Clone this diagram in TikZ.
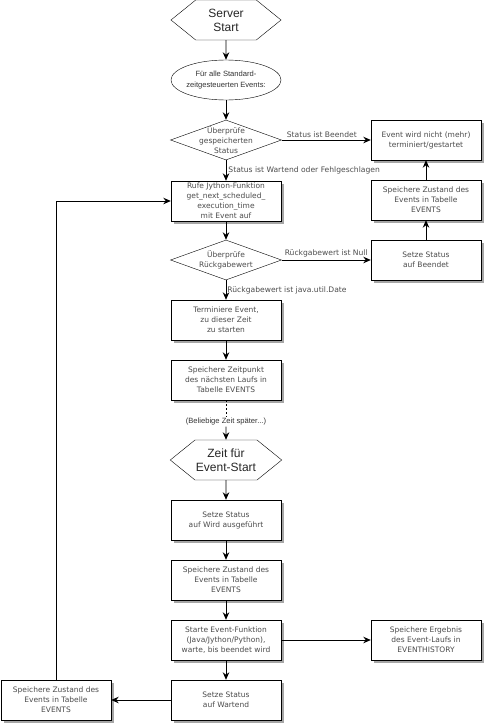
\documentclass[tikz,border=0pt]{standalone}
\usepackage{fontspec}
\setmainfont{DejaVu Sans}
\newfontfamily\arialfont{Liberation Sans}
\usetikzlibrary{shapes.geometric, shapes.symbols, shadows, arrows.meta}

\tikzset{
    box/.style={draw, rectangle, fill=white, minimum width=110pt, minimum height=40pt,
        inner sep=0pt, align=center, text=black!70, font=\fontsize{7.5}{10}\selectfont,
        drop shadow={shadow xshift=3pt, shadow yshift=-3pt, fill=black!35, opacity=1}},
    hexa/.style={draw, signal, signal to=west and east, signal pointer angle=78,
        minimum width=110pt, minimum height=40pt, inner sep=1pt, align=center,
        text=black!85, font=\arialfont\fontsize{12}{14}\selectfont},
    decide/.style={draw, diamond, fill=white, minimum width=111pt, minimum height=40pt, inner sep=0pt},
    loopover/.style={draw, ellipse, fill=white, minimum width=110pt, minimum height=40pt, inner sep=0pt},
    boxtext/.style={align=center, text=black!70, font=\fontsize{7.5}{10}\selectfont},
    smalltext/.style={align=center, text=black!80, font=\arialfont\fontsize{7.6}{10.5}\selectfont},
    edgetext/.style={text=black!70, font=\fontsize{7.6}{9}\selectfont, inner sep=2pt},
    flow/.style={line width=0.9pt, -{Stealth[length=7.5pt, width=6.5pt]}}
}

\begin{document}
\begin{tikzpicture}[x=1pt, y=-1pt]

    \useasboundingbox (0, 0) rectangle (484, 725);

    \node[hexa] (start) at (226, 20) {Server\\Start};
    \node[loopover, label={[smalltext]center:{Für alle Standard-\\zeitgesteuerten Events:}}] (each) at (226, 80) {};
    \node[decide, label={[boxtext]center:{Überprüfe\\gespeicherten\\Status}}] (chk1) at (226, 140) {};
    \node[box] (call) at (226, 201) {Rufe Jython-Funktion\\get\_next\_scheduled\_\\execution\_time\\mit Event auf};
    \node[decide, label={[boxtext]center:{Überprüfe\\Rückgabewert}}] (chk2) at (226, 260) {};
    \node[box] (plan) at (226, 320) {Terminiere Event,\\zu dieser Zeit\\zu starten};
    \node[box] (savenext) at (226, 380) {Speichere Zeitpunkt\\des nächsten Laufs in\\Tabelle EVENTS};
    \node[smalltext, fill=white, inner sep=1pt] (later) at (226, 422) {(Beliebige Zeit später...)};

    \node[box] (done) at (426, 140) {Event wird nicht (mehr)\\terminiert/gestartet};
    \node[box] (nullsave) at (426, 200) {Speichere Zustand des\\Events in Tabelle\\EVENTS};
    \node[box] (nullset) at (426, 260) {Setze Status\\auf Beendet};

    \node[hexa] (eventstart) at (226, 460) {Zeit für\\Event-Start};
    \node[box] (running) at (226, 520) {Setze Status\\auf Wird ausgeführt};
    \node[box] (saverun) at (226, 580) {Speichere Zustand des\\Events in Tabelle\\EVENTS};
    \node[box] (runfunc) at (226, 640) {Starte Event-Funktion\\(Java/Jython/Python),\\warte, bis beendet wird};
    \node[box] (setwait) at (226, 700) {Setze Status\\auf Wartend};

    \node[box] (history) at (426, 640) {Speichere Ergebnis\\des Event-Laufs in\\EVENTHISTORY};
    \node[box] (savewait) at (56, 700) {Speichere Zustand des\\Events in Tabelle\\EVENTS};

    \path[draw, flow] (start) to (each);
    \path[draw, flow] (each) to (chk1);
    \path[draw, flow] (chk1) to node[edgetext, above, pos=0.45] {Status ist Beendet} (done);
    \path[draw, flow] (chk1) to node[edgetext, right] {Status ist Wartend oder Fehlgeschlagen} (call);
    \path[draw, flow] (call) to (chk2);
    \path[draw, flow] (chk2) to node[edgetext, above] {Rückgabewert ist Null} (nullset);
    \path[draw, flow] (nullset) to (nullsave);
    \path[draw, flow] (nullsave) to (done);
    \path[draw, flow] (chk2) to node[edgetext, right, inner sep=1pt] {Rückgabewert ist java.util.Date} (plan);
    \path[draw, flow] (plan) to (savenext);
    \path[draw, line width=0.9pt, dash pattern=on 2pt off 2pt] (savenext) to (later);
    \path[draw, flow] (later) to (eventstart);

    \path[draw, flow] (eventstart) to (running);
    \path[draw, flow] (running) to (saverun);
    \path[draw, flow] (saverun) to (runfunc);
    \path[draw, flow] (runfunc) to (setwait);
    \path[draw, flow] (runfunc) to (history);
    \path[draw, flow] (setwait) to (savewait);
    \path[draw, flow] (savewait.north) |- (call.west);

\end{tikzpicture}
\end{document}
